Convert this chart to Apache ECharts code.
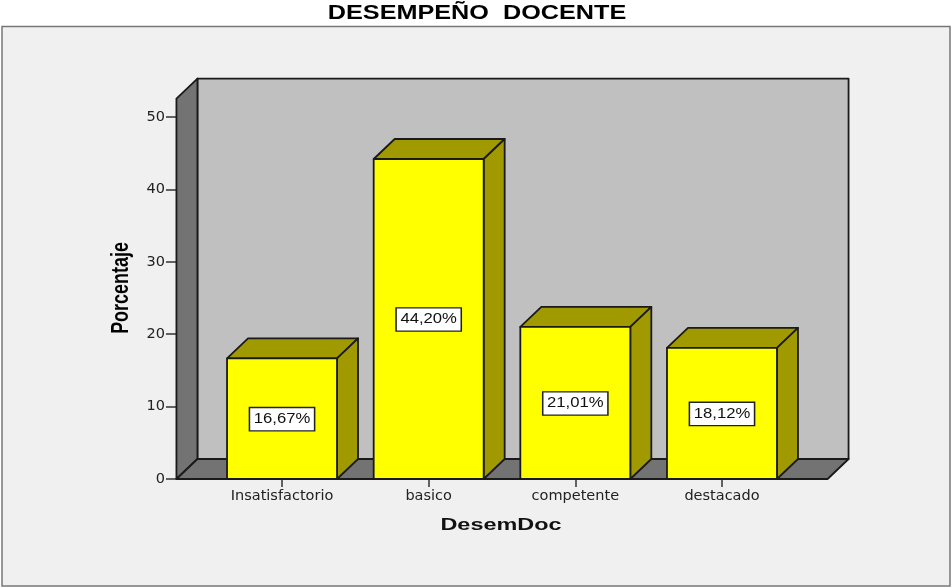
<!DOCTYPE html>
<html><head><meta charset="utf-8">
<style>html,body{margin:0;padding:0;background:#fff}#c{width:952px;height:588px}</style>
<script src="https://cdn.jsdelivr.net/npm/echarts@6/dist/echarts.min.js"></script>
</head><body><div id="c"></div>
<script>
const categories = ['Insatisfactorio','basico','competente','destacado'];
const percentages = [16.67,44.20,21.01,18.12];
const percentLabels = ['16,67%','44,20%','21,01%','18,12%'];
const yTicks = {min:0,max:50,interval:10};
const wallTop = 52.55;
const depthX = 21, depthY = 20;
const edge = '#1a1a1a';
const FONT = '"Liberation Sans", Arial, sans-serif';
const WIDE = '"DejaVu Sans", sans-serif';

function poly(points, fill, lw){
  return {type:'polygon',shape:{points},style:{fill,stroke:edge,lineWidth:lw||1.8,lineJoin:'round'}};
}
function renderWalls(params, api){
  const band = api.size([1,0])[0];
  const m = band*0.22;
  const p0 = api.coord([0,0]), pT = api.coord([0,wallTop]), pR = api.coord([categories.length-1,0]);
  const L = p0[0]-band/2-m, R = pR[0]+band/2+m, B = p0[1], T = pT[1];
  return {type:'group',children:[
    poly([[L+depthX,T-depthY],[R+depthX,T-depthY],[R+depthX,B-depthY],[L+depthX,B-depthY]],'#c0c0c0'),
    poly([[L,T],[L+depthX,T-depthY],[L+depthX,B-depthY],[L,B]],'#737373'),
    poly([[L,B],[L+depthX,B-depthY],[R+depthX,B-depthY],[R,B]],'#737373')
  ]};
}
function renderBar(params, api){
  const i = api.value(0), v = api.value(1);
  const w = api.size([1,0])[0]*0.75;
  const top = api.coord([i,v]), base = api.coord([i,0]);
  const l = top[0]-w/2, r = top[0]+w/2, t = top[1], b = base[1];
  return {type:'group',children:[
    poly([[l,t],[l+depthX,t-depthY],[r+depthX,t-depthY],[r,t]],'#a09a00'),
    poly([[r,t],[r+depthX,t-depthY],[r+depthX,b-depthY],[r,b]],'#a09a00'),
    poly([[l,t],[r,t],[r,b],[l,b]],'#ffff00'),
    {type:'text',x:(l+r)/2,y:(t+b)/2+0.5,scaleX:1.19,style:{
      text:percentLabels[i],fill:'#111',font:'14px '+FONT,align:'center',verticalAlign:'middle',
      backgroundColor:'#fff',borderColor:'#222',borderWidth:1.3,padding:[4,3,4,3]}}
  ]};
}
const chart = echarts.init(document.getElementById('c'),null,{renderer:'canvas'});
chart.setOption({
  animation:false,
  backgroundColor:'#fff',
  graphic:[
    {type:'rect',z:-10,silent:true,shape:{x:2,y:26.5,width:948,height:559.5},style:{fill:'#f0f0f0',stroke:'#777',lineWidth:1.5}},
    {type:'text',z:10,x:477,y:13.5,scaleX:1.23,style:{text:'DESEMPEÑO  DOCENTE',fill:'#000',
      font:'bold 20.5px '+FONT,align:'center',verticalAlign:'middle'}},
    {type:'text',z:10,x:121.5,y:288,rotation:Math.PI/2,scaleX:0.78,style:{text:'Porcentaje',fill:'#000',
      font:'bold 23px '+FONT,align:'center',verticalAlign:'middle'}},
    {type:'text',z:10,x:501,y:525,scaleX:1.42,style:{text:'DesemDoc',fill:'#111',
      font:'bold 16.5px '+FONT,align:'center',verticalAlign:'middle'}}
  ],
  grid:{left:208.7,top:117,width:586.6,height:362,containLabel:false},
  xAxis:{type:'category',data:categories,
    axisLine:{show:false},
    axisTick:{show:true,alignWithLabel:true,length:8,lineStyle:{color:'#333',width:1.5}},
    axisLabel:{color:'#222',fontFamily:WIDE,fontSize:14.5,margin:10}},
  yAxis:{type:'value',min:yTicks.min,max:yTicks.max,interval:yTicks.interval,offset:32.7,
    splitLine:{show:false},axisLine:{show:false},
    axisTick:{show:true,length:10,lineStyle:{color:'#333',width:1.5}},
    axisLabel:{color:'#222',fontFamily:WIDE,fontSize:14.5,margin:11}},
  series:[
    {type:'custom',coordinateSystem:'cartesian2d',z:1,silent:true,clip:false,renderItem:renderWalls,
      encode:{x:0,y:1},data:[[0,0]]},
    {type:'custom',coordinateSystem:'cartesian2d',z:3,silent:true,clip:false,renderItem:renderBar,
      encode:{x:0,y:1},data:percentages.map((v,i)=>[i,v])}
  ]
});
</script></body></html>
